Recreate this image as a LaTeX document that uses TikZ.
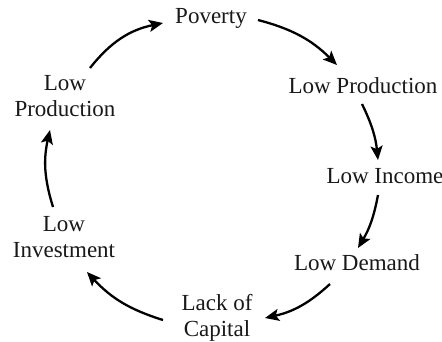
\documentclass[tikz,border=0pt]{standalone}
\usepackage{fontspec}
\setmainfont{Liberation Serif}
\usetikzlibrary{arrows.meta}
\begin{document}
\begin{tikzpicture}[x=1pt,y=-1pt,
  lbl/.style={inner sep=0pt,font=\fontsize{23}{26}\selectfont,text=black!90},
  lbl2/.style={lbl,align=center},
  arr/.style={line width=2.3pt,black,-{Stealth[length=14pt,width=12pt,inset=3pt]},bend left=#1},
  arr/.default=15]
\fill[white] (0,0) rectangle (442,341);
\useasboundingbox (0,0) rectangle (442,341);
\node[lbl,anchor=base] (pov) at (211,23) {Poverty};
\node[lbl,anchor=base] (lpr) at (363,93) {Low Production};
\node[lbl,anchor=base] (lin) at (385,183) {Low Income};
\node[lbl,anchor=base] (ldm) at (357,270) {Low Demand};
\node[lbl2] (lcap) at (217,318) {Lack of\\Capital};
\node[lbl2] (linv) at (64,237) {Low\\Investment};
\node[lbl2] (lpl) at (65,96) {Low\\Production};
\draw[arr=20] ([shift={(25,-28)}]lpl.center) to ([shift={(-48,0)}]pov.base);
\draw[arr=15] ([shift={(47,-3)}]pov.base) to ([shift={(-26,-28)}]lpr.base);
\draw[arr=10] ([shift={(-1,11)}]lpr.base) to ([shift={(-7,-23)}]lin.base);
\draw[arr=10] ([shift={(-7,12)}]lin.base) to ([shift={(1,-22)}]ldm.base);
\draw[arr=15] ([shift={(-27,14)}]ldm.base) to ([shift={(48,0)}]lcap.center);
\draw[arr=15] ([shift={(-54,2)}]lcap.center) to ([shift={(23,35)}]linv.center);
\draw[arr=15] ([shift={(-11,-30)}]linv.center) to ([shift={(-15,34)}]lpl.center);
\end{tikzpicture}
\end{document}
